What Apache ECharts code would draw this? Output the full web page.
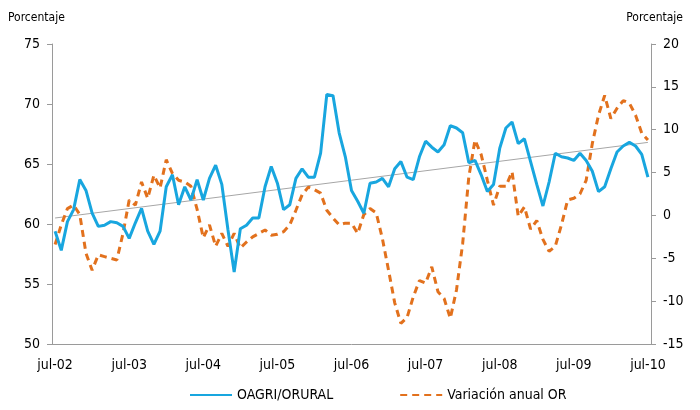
<!DOCTYPE html>
<html>
<head>
<meta charset="utf-8">
<script src="https://cdn.jsdelivr.net/npm/echarts@6/dist/echarts.min.js"></script>
<style>
  html, body { margin: 0; padding: 0; background: #fff; }
  #chart { width: 700px; height: 410px; }
</style>
</head>
<body>
<div id="chart"></div>
<script>
// meses jul-02 .. jul-10
var monthNames = ['ene', 'feb', 'mar', 'abr', 'may', 'jun', 'jul', 'ago', 'sep', 'oct', 'nov', 'dic']
var categories = []
for (var k = 0; k < 97; k++) {
  var m = (6 + k) % 12
  var yr = 2 + Math.floor((6 + k) / 12)
  categories.push(monthNames[m] + '-' + (yr < 10 ? '0' + yr : yr))
}

// OAGRI/ORURAL (eje izquierdo)
var oagriOrural = [
  59.4, 57.8, 60.2, 61.2, 63.7, 62.8, 60.9, 59.8, 59.9, 60.2, 60.1, 59.8,
  58.8, 60.1, 61.3, 59.4, 58.3, 59.4, 63.1, 64.1, 61.6, 63.1, 62.0, 63.7,
  62.0, 63.8, 64.9, 63.3, 59.5, 56.0, 59.6, 59.9, 60.5, 60.5, 63.1, 64.8,
  63.4, 61.2, 61.6, 63.8, 64.6, 63.9, 63.9, 65.9, 70.8, 70.7, 67.6, 65.6,
  62.8, 61.9, 60.9, 63.4, 63.5, 63.8, 63.1, 64.6, 65.2, 63.9, 63.7, 65.6,
  66.9, 66.4, 66.0, 66.6, 68.2, 68.0, 67.6, 65.1, 65.3, 64.1, 62.7, 63.3,
  66.3, 68.0, 68.5, 66.7, 67.1, 65.2, 63.3, 61.5, 63.5, 65.9, 65.6, 65.5,
  65.3, 65.9, 65.3, 64.4, 62.7, 63.1, 64.6, 66.0, 66.5, 66.8, 66.5, 65.8,
  63.9
]

// Variación anual OR (eje derecho)
var variacionOR = [
  -3.4, -1.1, 0.8, 1.2, 0.1, -4.4, -6.4, -4.6, -4.8, -5.0, -5.2, -2.1,
  1.8, 1.2, 3.9, 2.0, 4.7, 3.2, 6.5, 4.9, 4.1, 3.9, 3.4, 0.7,
  -2.6, -1.1, -3.6, -2.1, -3.6, -2.1, -3.8, -3.1, -2.5, -2.1, -1.7, -2.3,
  -2.2, -1.9, -1.1, 0.6, 2.4, 3.3, 3.0, 2.6, 0.6, -0.3, -1.1, -0.9,
  -0.9, -2.1, 0.1, 0.8, 0.3, -2.7, -6.4, -10.2, -12.6, -11.9, -9.5, -7.6,
  -7.9, -6.0, -8.9, -9.7, -12.0, -8.7, -3.3, 4.5, 8.8, 7.1, 4.1, 1.2,
  3.4, 3.4, 5.1, -0.1, 1.0, -1.6, -0.6, -2.8, -4.2, -3.6, -1.1, 1.8,
  2.0, 2.5, 4.1, 8.4, 11.7, 14.0, 11.3, 12.5, 13.4, 13.1, 11.7, 9.6,
  8.8
]

// tendencia lineal de OAGRI/ORURAL (extremos)
var trendEnds = [60.5, 66.8]

var leftTicks = { min: 50, max: 75, interval: 5 }
var rightTicks = { min: -15, max: 20, interval: 5 }

var font = "'Liberation Sans Narrow', 'DejaVu Sans Condensed', 'Noto Sans', sans-serif"
var axisGray = '#9a9a9a'

var chart = echarts.init(document.getElementById('chart'))
chart.setOption({
  animation: false,
  textStyle: { fontFamily: font, color: '#000' },
  grid: { left: 52, right: 49, top: 44, bottom: 66, containLabel: false },
  graphic: [
    { type: 'text', left: 8, top: 12, style: { text: 'Porcentaje', font: '12px ' + font, fill: '#000' } },
    { type: 'text', right: 17, top: 12, style: { text: 'Porcentaje', font: '12px ' + font, fill: '#000' } }
  ],
  legend: {
    bottom: 3,
    left: 184,
    itemWidth: 42,
    itemHeight: 10,
    itemGap: 66,
    itemStyle: { opacity: 0 },
    textStyle: { fontFamily: font, fontSize: 14, color: '#000' },
    data: ['OAGRI/ORURAL', 'Variación anual OR']
  },
  xAxis: {
    type: 'category',
    data: categories,
    boundaryGap: true,
    axisLine: { onZero: false, lineStyle: { color: axisGray, width: 1 } },
    axisTick: { interval: 11, length: 5, lineStyle: { color: axisGray } },
    axisLabel: { interval: 11, fontSize: 14, color: '#000', margin: 14, fontFamily: font }
  },
  yAxis: [
    {
      type: 'value',
      min: leftTicks.min, max: leftTicks.max, interval: leftTicks.interval,
      axisLine: { show: true, lineStyle: { color: axisGray } },
      axisTick: { show: true, length: 5, lineStyle: { color: axisGray } },
      axisLabel: { fontSize: 14, color: '#000', margin: 12, fontFamily: font },
      splitLine: { show: false }
    },
    {
      type: 'value',
      position: 'right',
      min: rightTicks.min, max: rightTicks.max, interval: rightTicks.interval,
      axisLine: { show: true, lineStyle: { color: axisGray } },
      axisTick: { show: true, length: 5, lineStyle: { color: axisGray } },
      axisLabel: { fontSize: 14, color: '#000', margin: 12, fontFamily: font },
      splitLine: { show: false }
    }
  ],
  series: [
    {
      name: 'tendencia',
      type: 'line',
      yAxisIndex: 0,
      data: [[categories[0], trendEnds[0]], [categories[categories.length - 1], trendEnds[1]]],
      showSymbol: false,
      lineStyle: { color: '#a6a6a6', width: 1 },
      z: 1
    },
    {
      name: 'OAGRI/ORURAL',
      type: 'line',
      yAxisIndex: 0,
      data: oagriOrural,
      showSymbol: false,
      symbol: 'none',
      itemStyle: { color: '#18a6df' },
      lineStyle: { color: '#18a6df', width: 3 },
      z: 3
    },
    {
      name: 'Variación anual OR',
      type: 'line',
      yAxisIndex: 1,
      data: variacionOR,
      showSymbol: false,
      symbol: 'none',
      itemStyle: { color: '#e2711d' },
      lineStyle: { color: '#e2711d', width: 3, type: [7, 5] },
      z: 2
    }
  ]
})
</script>
</body>
</html>
